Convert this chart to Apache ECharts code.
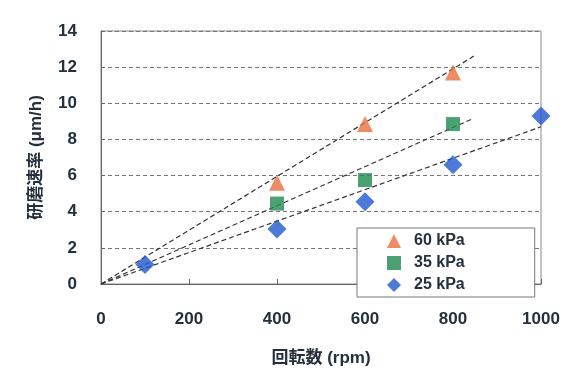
<!DOCTYPE html>
<html><head><meta charset="utf-8">
<script src="https://cdn.jsdelivr.net/npm/echarts@6/dist/echarts.min.js"></script>
<style>html,body{margin:0;padding:0;background:#fff}#c{width:572px;height:372px}</style>
</head><body><div id="c"></div>
<script>
const seriesNames = ['60 kPa', '35 kPa', '25 kPa'];
const rpm60 = [400, 600, 800];
const rate60 = [5.6, 8.85, 11.7];
const rpm35 = [400, 600, 800];
const rate35 = [4.45, 5.75, 8.85];
const rpm25 = [100, 400, 600, 800, 1000];
const rate25 = [1.08, 3.05, 4.55, 6.6, 9.3];
// trend lines: start and end points
const trend60 = [[0, 0], [850, 12.65]];
const trend35 = [[0, 0], [845, 9.15]];
const trend25 = [[0, 0], [1000, 8.7]];
const xTicks = [0, 200, 400, 600, 800, 1000];
const yTicks = [0, 2, 4, 6, 8, 10, 12, 14];

const txt = '#24303c';
const font = 'Liberation Sans, Arial, sans-serif';
const cjk = 'Liberation Sans, Noto Sans CJK JP, sans-serif';
const zip = (a, b) => a.map((v, i) => [v, b[i]]);
const trendStyle = {type: 'line', symbol: 'none', silent: true, z: 1,
  lineStyle: {color: '#333', width: 1.2, type: [5, 3]}};

const chart = echarts.init(document.getElementById('c'), null, {renderer: 'canvas'});
chart.setOption({
  animation: false,
  backgroundColor: '#fff',
  grid: {left: 101, right: 31, top: 31, bottom: 76, show: true, borderColor: '#888', borderWidth: 1},
  xAxis: {
    type: 'value', min: xTicks[0], max: xTicks[xTicks.length - 1], interval: 200,
    name: '回転数 (rpm)', nameLocation: 'middle', nameGap: 66,
    nameTextStyle: {color: txt, fontSize: 17, fontWeight: 'bold', fontFamily: cjk},
    axisLine: {show: true, lineStyle: {color: '#666'}},
    axisTick: {show: true, inside: true, length: 5, lineStyle: {color: '#666'}},
    axisLabel: {color: txt, fontSize: 17, fontWeight: 'bold', fontFamily: font, margin: 27,
      formatter: v => String(v)},
    splitLine: {show: false}
  },
  yAxis: {
    type: 'value', min: yTicks[0], max: yTicks[yTicks.length - 1], interval: 2,
    name: '研磨速率 (μm/h)', nameLocation: 'middle', nameGap: 56, nameRotate: 90,
    nameTextStyle: {color: txt, fontSize: 17, fontWeight: 'bold', fontFamily: cjk},
    axisLine: {show: true, lineStyle: {color: '#666'}},
    axisTick: {show: true, inside: true, length: 4, lineStyle: {color: '#666'}},
    axisLabel: {color: txt, fontSize: 17, fontWeight: 'bold', fontFamily: font, margin: 24},
    splitLine: {show: true, lineStyle: {color: '#777', type: [4, 3]}}
  },
  legend: {
    orient: 'vertical', left: 357, top: 228,
    data: seriesNames,
    backgroundColor: '#fff', borderColor: '#777', borderWidth: 1,
    padding: [5, 70, 4, 30], itemGap: 6, itemWidth: 14, itemHeight: 14,
    textStyle: {color: txt, fontSize: 16, fontWeight: 'bold', fontFamily: font, lineHeight: 14,
      padding: [0, 0, 0, 8]}
  },
  series: [
    Object.assign({name: 't60', data: trend60}, trendStyle),
    Object.assign({name: 't35', data: trend35}, trendStyle),
    Object.assign({name: 't25', data: trend25}, trendStyle),
    {name: seriesNames[0], type: 'scatter', symbol: 'triangle', symbolSize: 16, z: 3,
     itemStyle: {color: '#E8713C'}, data: zip(rpm60, rate60)},
    {name: seriesNames[1], type: 'scatter', symbol: 'rect', symbolSize: 14, z: 3,
     itemStyle: {color: '#1E8A4F'}, data: zip(rpm35, rate35)},
    {name: seriesNames[2], type: 'scatter', symbol: 'diamond', symbolSize: 19, z: 3,
     itemStyle: {color: '#2058D0'}, data: zip(rpm25, rate25)}
  ]
});
</script></body></html>
